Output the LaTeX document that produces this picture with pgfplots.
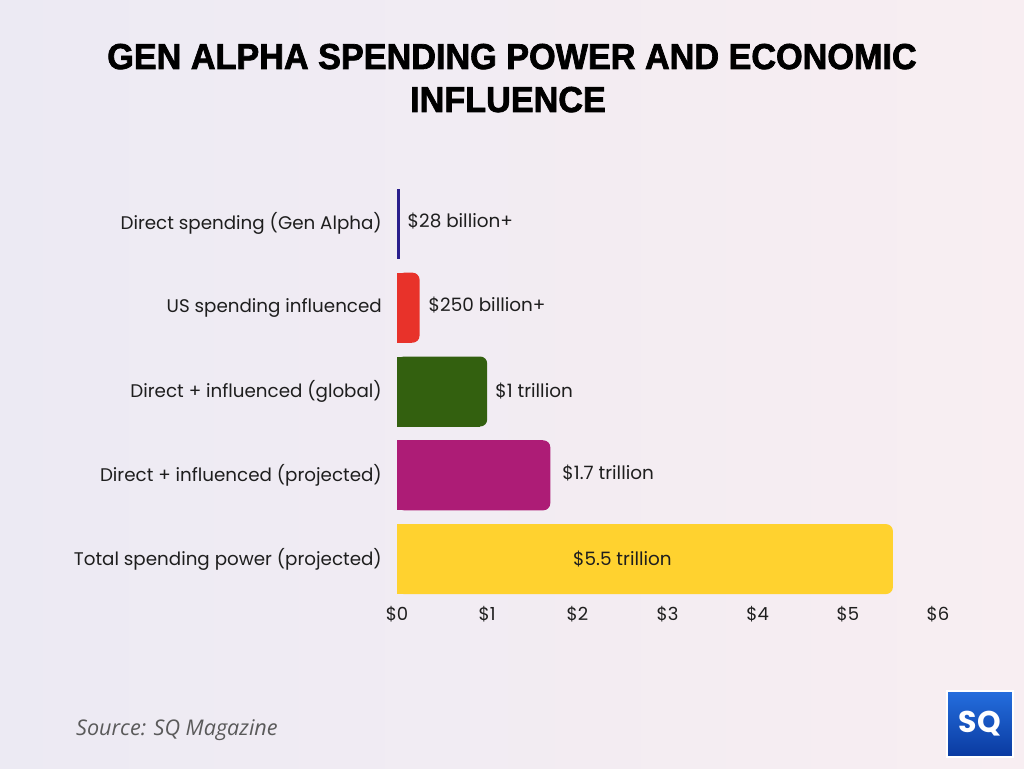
\documentclass[border=0pt]{standalone}
\usepackage{pgfplots}
\pgfplotsset{compat=1.18}
\usepackage{fontspec}
\setmainfont{Poppins}
\newfontfamily\titlefont[FakeStretch=0.95,FakeBold=2]{Liberation Sans Bold}
\newfontfamily\srcfont{Open Sans}
\definecolor{cA}{HTML}{2A1E8C}
\definecolor{cB}{HTML}{E8322A}
\definecolor{cC}{HTML}{33600F}
\definecolor{cD}{HTML}{AD1C76}
\definecolor{cE}{HTML}{FFD22F}
\definecolor{txt}{HTML}{1E1E1E}
\begin{document}
\begin{tikzpicture}[x=1pt,y=1pt]
\shade[use as bounding box, left color={rgb,255:red,236;green,234;blue,243}, right color={rgb,255:red,248;green,238;blue,242}] (0,0) rectangle (1024,768);
\node[anchor=base, text=black] at (512,699) {\titlefont\fontsize{36}{40}\selectfont GEN ALPHA SPENDING POWER AND ECONOMIC};
\node[anchor=base, text=black] at (508,656) {\titlefont\fontsize{36}{40}\selectfont INFLUENCE};
\begin{axis}[
  at={(397pt,167pt)}, anchor=south west,
  width=541pt, height=419pt, scale only axis,
  xmin=0, xmax=6, ymin=-0.5, ymax=4.5, y dir=reverse,
  axis line style={draw=none}, major tick length=0pt,
  xtick={0,1,2,3,4,5,6},
  xticklabels={\$0,\$1,\$2,\$3,\$4,\$5,\$6},
  ytick={0,1,2,3,4},
  yticklabels={Direct spending (Gen Alpha),US spending influenced,Direct + influenced (global),Direct + influenced (projected),Total spending power (projected)},
  tick label style={inner sep=0pt, text=txt},
  yticklabel style={font=\fontsize{18.3}{20}\selectfont},
  xticklabel style={font=\fontsize{18}{20}\selectfont},
  yticklabel shift=15pt, xticklabel shift=5pt,
  clip=false,
]
\addplot[xbar, bar width=70pt, bar shift=0pt, fill=cA, draw=none] coordinates {(0.028,0)};
\addplot[xbar, bar width=70pt, bar shift=0pt, fill=cB, draw=none, x filter/.expression={x-0.08}] coordinates {(0.25,1)};
\addplot[xbar, bar width=70pt, bar shift=0pt, fill=cB, draw=none, rounded corners=7pt] coordinates {(0.25,1)};
\addplot[xbar, bar width=70pt, bar shift=0pt, fill=cC, draw=none, x filter/.expression={x-0.08}] coordinates {(1,2)};
\addplot[xbar, bar width=70pt, bar shift=0pt, fill=cC, draw=none, rounded corners=7pt] coordinates {(1,2)};
\addplot[xbar, bar width=70pt, bar shift=0pt, fill=cD, draw=none, x filter/.expression={x-0.08}] coordinates {(1.7,3)};
\addplot[xbar, bar width=70pt, bar shift=0pt, fill=cD, draw=none, rounded corners=7pt] coordinates {(1.7,3)};
\addplot[xbar, bar width=70pt, bar shift=0pt, fill=cE, draw=none, x filter/.expression={x-0.08}] coordinates {(5.5,4)};
\addplot[xbar, bar width=70pt, bar shift=0pt, fill=cE, draw=none, rounded corners=7pt] coordinates {(5.5,4)};
\node[anchor=west, text=txt, font=\fontsize{18.4}{20}\selectfont, inner sep=0pt] at (axis cs:0.028,-0.03) [xshift=8pt] {\$28 billion+};
\node[anchor=west, text=txt, font=\fontsize{18.4}{20}\selectfont, inner sep=0pt] at (axis cs:0.25,0.97) [xshift=9pt] {\$250 billion+};
\node[anchor=west, text=txt, font=\fontsize{18.4}{20}\selectfont, inner sep=0pt] at (axis cs:1,2.0) [xshift=8pt] {\$1 trillion};
\node[anchor=west, text=txt, font=\fontsize{18.4}{20}\selectfont, inner sep=0pt] at (axis cs:1.7,2.97) [xshift=12pt] {\$1.7 trillion};
\node[anchor=center, text=txt, font=\fontsize{18.4}{20}\selectfont, inner sep=0pt] at (axis cs:2.5,4.0) {\$5.5 trillion};
\end{axis}
\node[anchor=base west, inner sep=0pt, text={rgb,255:red,90;green,90;blue,90}] at (76,33) {\srcfont\itshape\fontsize{21.6}{24}\selectfont Source: SQ Magazine};
\draw[white, line width=1.5pt, top color={rgb,255:red,36;green,110;blue,222}, bottom color={rgb,255:red,10;green,58;blue,160}] (947,11) rectangle (1013,77);
\node[text=white, font=\fontsize{30}{30}\selectfont\bfseries] at (980,44) {SQ};
\end{tikzpicture}
\end{document}
